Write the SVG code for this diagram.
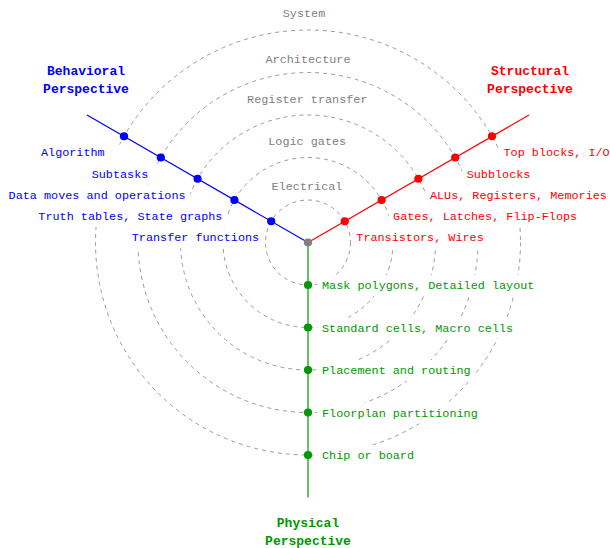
<svg xmlns="http://www.w3.org/2000/svg" width="610" height="548" viewBox="0 0 610 548">
<style>
text{font-family:"Liberation Mono","DejaVu Sans Mono",monospace;font-size:11.8px}
.lvl{fill:none;stroke:#808080;stroke-width:0.8;stroke-dasharray:4 4}
.bg{fill:#ffffff;stroke:none}
.b{fill:#0000ff}
.r{fill:#ff0000}
.g{fill:#009900}
.gr{fill:#808080;text-anchor:middle}
.t{font-size:13px;font-weight:bold;text-anchor:middle}
.axb{stroke:#0000ff;stroke-width:1.2}
.axr{stroke:#ff0000;stroke-width:1.2}
.axg{stroke:#009900;stroke-width:1.2}
</style>
<rect width="610" height="548" fill="#ffffff"/>
<g id="levels">
<circle class="lvl" cx="308" cy="242.5" r="42.5"/>
<circle class="lvl" cx="308" cy="242.5" r="85"/>
<circle class="lvl" cx="308" cy="242.5" r="127.5"/>
<circle class="lvl" cx="308" cy="242.5" r="170"/>
<circle class="lvl" cx="308" cy="242.5" r="212.5"/>
</g>
<g id="level-labels">
<text class="gr" x="304" y="17.3">System</text>
<text class="gr" x="308" y="63">Architecture</text>
<text class="gr" x="307.3" y="102.7">Register transfer</text>
<text class="gr" x="307.2" y="145">Logic gates</text>
<text class="gr" x="307" y="189.7">Electrical</text>
</g>
<g id="connectors">
<line class="axb" x1="308" y1="242.5" x2="87" y2="115"/>
<line class="axr" x1="308" y1="242.5" x2="529" y2="115"/>
<line class="axg" x1="308" y1="242.5" x2="308" y2="497.5"/>
</g>
<g id="behavioral">
<text class="t b" x="86" y="75">Behavioral</text>
<text class="t b" x="86" y="93">Perspective</text>
</g>
<g id="structural">
<text class="t r" x="530" y="75">Structural</text>
<text class="t r" x="530" y="93">Perspective</text>
</g>
<g id="physical">
<text class="t g" x="308" y="526.6">Physical</text>
<text class="t g" x="308" y="545">Perspective</text>
</g>
<g id="b1"><rect class="bg" x="127.3" y="227.25" width="136.4" height="21"/><circle class="b" cx="271.2" cy="221.25" r="4.1"/><text class="b" x="259.2" y="241.25" text-anchor="end">Transfer functions</text></g>
<g id="b2"><rect class="bg" x="33.8" y="206" width="193.1" height="21"/><circle class="b" cx="234.4" cy="200" r="4.1"/><text class="b" x="222.4" y="220" text-anchor="end">Truth tables, State graphs</text></g>
<g id="b3"><rect class="bg" x="4.1" y="184.75" width="186" height="21"/><circle class="b" cx="197.6" cy="178.75" r="4.1"/><text class="b" x="185.6" y="198.75" text-anchor="end">Data moves and operations</text></g>
<g id="b4"><rect class="bg" x="87.7" y="163.5" width="68.3" height="21"/><circle class="b" cx="160.8" cy="157.5" r="4.1"/><text class="b" x="148.3" y="177.5" text-anchor="end">Subtasks</text></g>
<g id="b5"><rect class="bg" x="36.5" y="142.25" width="83" height="21"/><circle class="b" cx="124" cy="136.25" r="4.1"/><text class="b" x="104.7" y="156.25" text-anchor="end">Algorithm</text></g>
<g id="s1"><rect class="bg" x="351.8" y="227.25" width="136.4" height="21"/><circle class="r" cx="344.8" cy="221.25" r="4.1"/><text class="r" x="356.3" y="241.25">Transistors, Wires</text></g>
<g id="s2"><rect class="bg" x="388.6" y="206" width="193.1" height="21"/><circle class="r" cx="381.6" cy="200" r="4.1"/><text class="r" x="393.1" y="220">Gates, Latches, Flip-Flops</text></g>
<g id="s3"><rect class="bg" x="425.4" y="184.75" width="186" height="21"/><circle class="r" cx="418.4" cy="178.75" r="4.1"/><text class="r" x="429.9" y="198.75">ALUs, Registers, Memories</text></g>
<g id="s4"><rect class="bg" x="462.2" y="163.5" width="72.7" height="21"/><circle class="r" cx="455.2" cy="157.5" r="4.1"/><text class="r" x="466.7" y="177.5">Subblocks</text></g>
<g id="s5"><rect class="bg" x="499" y="142.25" width="115.2" height="21"/><circle class="r" cx="492" cy="136.25" r="4.1"/><text class="r" x="503.5" y="156.25">Top blocks, I/O</text></g>
<g id="p1"><rect class="bg" x="317.5" y="275" width="221.4" height="21"/><circle class="g" cx="308" cy="285" r="4.1"/><text class="g" x="322" y="289">Mask polygons, Detailed layout</text></g>
<g id="p2"><rect class="bg" x="317.5" y="317.5" width="200.2" height="21"/><circle class="g" cx="308" cy="327.5" r="4.1"/><text class="g" x="322" y="331.5">Standard cells, Macro cells</text></g>
<g id="p3"><rect class="bg" x="317.5" y="360" width="157.7" height="21"/><circle class="g" cx="308" cy="370" r="4.1"/><text class="g" x="322" y="374">Placement and routing</text></g>
<g id="p4"><rect class="bg" x="317.5" y="402.5" width="164.8" height="21"/><circle class="g" cx="308" cy="412.5" r="4.1"/><text class="g" x="322" y="416.5">Floorplan partitioning</text></g>
<g id="p5"><rect class="bg" x="317.5" y="445" width="101" height="21"/><circle class="g" cx="308" cy="455" r="4.1"/><text class="g" x="322" y="459">Chip or board</text></g>
<g id="origin"><circle cx="308" cy="242.5" r="4.1" fill="#808080"/></g>
</svg>
